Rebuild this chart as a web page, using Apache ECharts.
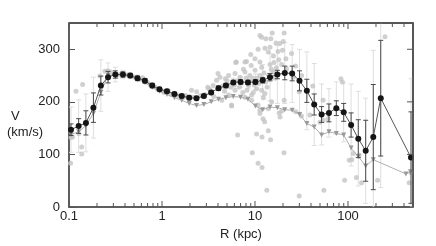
<!DOCTYPE html>
<html><head><meta charset="utf-8">
<script src="https://cdn.jsdelivr.net/npm/echarts@6/dist/echarts.min.js"></script>
<style>html,body{margin:0;padding:0;background:#fff;overflow:hidden}#c{width:436px;height:246px}</style>
</head><body><div id="c"></div>
<script>
// ---- data ----
const binR = [0.105,0.127,0.152,0.183,0.22,0.263,0.315,0.38,0.455,0.545,0.655,0.785,0.94,1.13,1.36,1.63,1.96,2.35,2.82,3.38,4.05,4.87,5.84,7.0,8.4,10.1,12.1,14.5,17.4,20.9,25.1,30.1,36.1,43.3,52.0,62.4,74.9,89.9,108,129,155,187,225,476];
const binV = [147,154,160,189,231,247,252,252,250,245,240,231,224,220,215,211,208,207,211,218,226,231,237,238,237,238,241,247,252,255,254,240,221,195,176,179,188,180,156,130,107,133,207,94];
const statErr = [11,14,23,28,18,11,7,5,4,4,4,4,3,3,3,3,3,3,3,3,4,4,4,4,4,4,5,7,8,13,14,19,22,20,15,17,14,17,23,36,58,100,110,87];
const sysErr = [43,50,55,58,49,27,14,8,6,6,5,5,5,5,5,5,5,5,5,5,5,6,8,10,12,15,30,45,55,58,55,60,74,78,58,46,50,56,78,90,100,165,170,150];

const triR = [0.105,0.127,0.152,0.183,0.22,0.263,0.315,0.38,0.455,0.545,0.655,0.785,0.94,1.13,1.36,1.63,1.96,2.35,2.82,3.38,4.05,4.87,5.84,7.0,8.4,10.1,12.1,14.5,17.4,20.9,25.1,30.1,36.1,43.3,52.0,62.4,74.9,89.9,108,129,155,187,420,470];
const triV = [138,143,155,178,218,250,252,251,248,243,237,228,220,214,208,203,197,193,195,200,205,208,210,209,205,192,185,190,189,185,184,176,159,152,137,143,140,137,112,96,78,90,63,67];

const ptR = [0.104,0.105,0.109,0.119,0.127,0.137,0.137,0.14,0.215,0.244,0.262,0.28,
 0.33,0.36,0.42,0.48,0.52,0.58,0.62,0.7,0.75,0.85,0.9,1.0,1.05,1.17,1.25,1.4,1.5,1.7,1.8,2.08,2.2,2.36,2.6,2.9,3.1,3.3,3.55,3.86,4.0,
 4.2,4.4,4.8,5.2,5.2,5.6,5.61,6.1,6.1,6.2,6.3,6.9,7.8,7.8,7.8,8.1,8.5,8.8,9.1,9.2,9.2,10,10,10.4,10.8,11.3,11.3,11.3,11.3,11.3,11.8,11.8,11.8,12.2,12.7,12.8,12.8,13.1,13.9,13.9,14.5,14.5,15.1,15.3,15.8,15.8,16.8,17.7,18.2,18.5,18.6,19.3,19.3,19.8,20.1,20.6,20.6,21.5,21.8,24.7,25.8,27.3,27.5,29.9,31.6,31.7,39,41.8,50,54,54,61,84,87,
 3.2,4.5,5.0,5.5,6.5,7.2,7.5,8,8.2,8.7,9.5,9.8,10.5,11,12,12.5,13,14,15,16,17,18,9,10.8,14.8,6.8,7.4,9.6,12.3,13.5,16.5,4.7,6.0,3.6,
 6.5,9.35,10.4,11.9,13.9,14.7,10.8,11.9,20.5,13.4,29.9,55,92,103,110,114,123,132,140,208,250,455,476];
const ptV = [83,132,133,220,140,114,101,233,249,258,259,257,
 250,253,251,249,246,243,246,237,232,228,224,221,218,221,214,214,211,209,212,222,209,219,212,214,228,222,231,241,254,
 247,203,244,250,213,194,192,254,222,275,276,247,257,276,209,277,231,250,269,213,203,282,260,225,194,276,250,184,178,326,323,266,222,168,162,302,216,320,295,187,304,271,200,331,287,257,312,296,179,311,171,271,182,298,315,331,203,282,263,292,247,268,181,219,173,250,175,230,161,165,203,168,244,238,
 225,230,240,228,240,236,262,245,222,240,245,232,245,235,245,255,238,250,262,275,265,280,290,300,320,228,218,218,208,228,245,220,232,210,
 137,103,139,133,145,128,83,75,103,32,21,32,51,89,90,102,56,99,46,51,324,46,65];

const majorTicksX = [0.1,1,10,100];
const minorTicksX = [0.2,0.3,0.4,0.5,0.6,0.7,0.8,0.9,2,3,4,5,6,7,8,9,20,30,40,50,60,70,80,90,200,300,400];
const ticksY = [100,200,300];
const xMin = 0.1, xMax = 500, yMin = 0, yMax = 350, yStep = 100;

// ---- chart ----
const chart = echarts.init(document.getElementById('c'), null, {renderer:'canvas'});
const FONT = 'Liberation Sans, Arial, sans-serif';
const axisCol = '#555';
const clear = 'rgba(0,0,0,0)';

function errRender(color, cap, w) {
  return function(params, api) {
    const x = api.value(0);
    const a = api.coord([x, api.value(1)]);
    const b = api.coord([x, api.value(2)]);
    const st = {stroke: color, lineWidth: w};
    return {type:'group', children:[
      {type:'line', shape:{x1:a[0],y1:a[1],x2:b[0],y2:b[1]}, style:st},
      {type:'line', shape:{x1:a[0]-cap,y1:a[1],x2:a[0]+cap,y2:a[1]}, style:st},
      {type:'line', shape:{x1:b[0]-cap,y1:b[1],x2:b[0]+cap,y2:b[1]}, style:st}
    ]};
  };
}

const sysData = binR.map((r,i)=>[r, binV[i]-sysErr[i], binV[i]+sysErr[i]]);
const statData = binR.map((r,i)=>[r, binV[i]-statErr[i], binV[i]+statErr[i]]);

const tickData = []
  .concat(majorTicksX.map(v=>[v, yMin, 0, -6]))
  .concat(minorTicksX.map(v=>[v, yMin, 0, -4]))
  .concat(majorTicksX.map(v=>[v, yMax, 0, 6]))
  .concat(minorTicksX.map(v=>[v, yMax, 0, 4]))
  .concat(ticksY.map(v=>[xMax, v, -6, 0]));

chart.setOption({
  animation:false,
  grid:{left:69, right:23, top:23, bottom:39, show:true, borderColor:axisCol, borderWidth:1.5, backgroundColor:clear},
  xAxis:{
    type:'log', logBase:10, min:xMin, max:xMax,
    axisLine:{show:true, onZero:false, lineStyle:{color:axisCol, width:1.5}},
    axisTick:{show:false},
    splitLine:{show:true, lineStyle:{color:[clear,clear,clear,clear,axisCol], width:1.5}},
    axisLabel:{show:true, color:'#222', fontSize:13, fontFamily:FONT, margin:3, showMaxLabel:false,
      formatter:v=>String(v)},
    name:'R (kpc)', nameLocation:'middle', nameGap:17,
    nameTextStyle:{color:'#222', fontSize:13, fontFamily:FONT}
  },
  yAxis:{
    type:'value', min:yMin, max:yMax, interval:yStep,
    axisLine:{show:true, onZero:false, lineStyle:{color:axisCol, width:1.5}},
    axisTick:{show:true, inside:true, length:6, lineStyle:{color:axisCol, width:1}},
    splitLine:{show:true, lineStyle:{color:[clear,clear,clear,clear,axisCol], width:1.5}},
    axisLabel:{show:true, color:'#222', fontSize:13, fontFamily:FONT, margin:9, showMaxLabel:false}
  },
  graphic:[
    {type:'text', left:11, top:110, style:{text:'V', fill:'#222', font:'13px '+FONT}},
    {type:'text', left:7, top:126, style:{text:'(km/s)', fill:'#222', font:'13px '+FONT}}
  ],
  series:[
    {type:'custom', name:'sys', clip:true, silent:true,
     renderItem: errRender('#dedede', 2.5, 1), data: sysData, z:1},
    {type:'scatter', name:'points', data: ptR.map((r,i)=>[r, ptV[i]]),
     symbol:'circle', symbolSize:5, itemStyle:{color:'#c4c4c4'}, z:2, silent:true},
    {type:'line', name:'tri', data: triR.map((r,i)=>[r, triV[i]]),
     symbol:'triangle', symbolRotate:180, symbolSize:5, showAllSymbol:true,
     lineStyle:{color:'#b0b0b0', width:1}, itemStyle:{color:'#999'}, z:3, silent:true},
    {type:'custom', name:'stat', clip:true, silent:true,
     renderItem: errRender('#4a4a4a', 2.5, 1), data: statData, z:4},
    {type:'line', name:'bins', data: binR.map((r,i)=>[r, binV[i]]),
     symbol:'circle', symbolSize:6, showAllSymbol:true,
     lineStyle:{color:'#555', width:1}, itemStyle:{color:'#151515'}, z:5, silent:true},
    {type:'custom', name:'ticks', clip:false, silent:true, z:6,
     data: tickData,
     renderItem: function(params, api){
       const p = api.coord([api.value(0), api.value(1)]);
       const kids = [{type:'line', shape:{x1:p[0],y1:p[1],x2:p[0]+api.value(2),y2:p[1]+api.value(3)},
         style:{stroke:axisCol, lineWidth:1}}];
       if (params.dataIndex === 0) {
         const tl = api.coord([xMin, yMax]);
         const br = api.coord([xMax, yMin]);
         kids.push({type:'polyline', shape:{points:[[tl[0], tl[1]], [br[0], tl[1]], [br[0], br[1]]]},
           style:{stroke:axisCol, lineWidth:1.5, fill:null}});
       }
       return {type:'group', children:kids};
     }}
  ]
});
</script></body></html>
